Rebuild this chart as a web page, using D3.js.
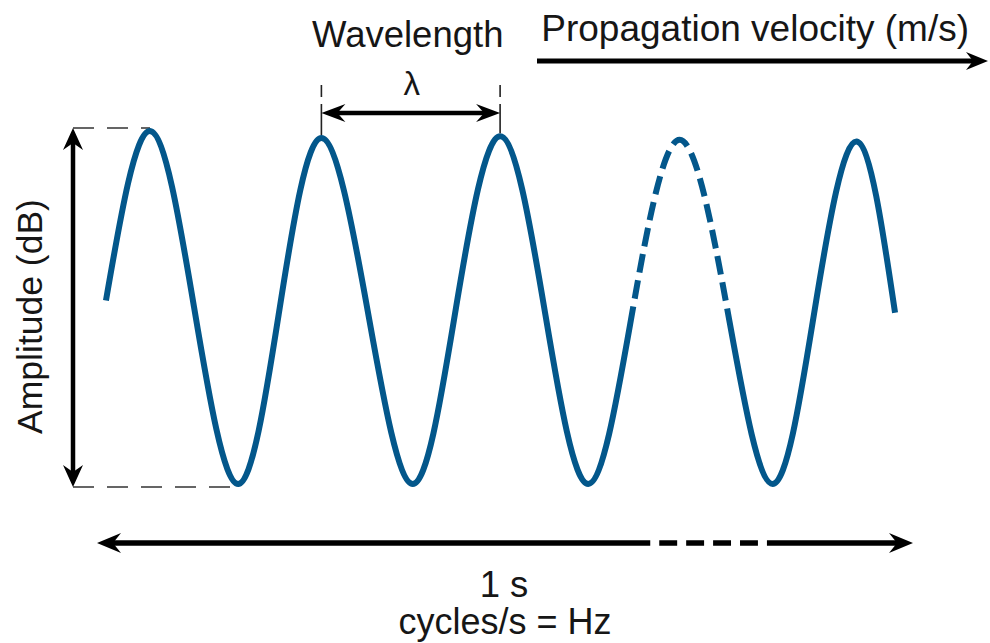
<!DOCTYPE html>
<html><head><meta charset="utf-8">
<script src="https://cdn.jsdelivr.net/npm/d3@7"></script>
<style>
body{margin:0;background:#fff}
svg{display:block;background:#fff}
text{font-family:"Liberation Sans",Arial,Helvetica,sans-serif;fill:#161616}
</style>
</head><body>
<svg id="chart" width="990" height="643"></svg>
<script>
// ---- data (time in seconds across the 1 s span, normalised amplitude) ----
const waveT   = [0.011, 0.065, 0.119, 0.173, 0.224, 0.275, 0.331, 0.387, 0.440, 0.494, 0.548, 0.602, 0.657, 0.714, 0.772, 0.828, 0.880, 0.931, 0.978];
const waveAmp = [0.04,  1.00,  0.00, -1.00,  0.00,  0.96,  0.00, -1.00,  0.00,  0.97,  0.00, -1.00,  0.00,  0.95,  0.00, -1.00,  0.00,  0.94, -0.03];
const waveDashedT = [0.657, 0.772];
const timeDashedT = [0.678, 0.821];
const wavelengthPeaks = [5, 9];          // indices of the two peaks spanning one wavelength
const labelWavelength = "Wavelength";
const labelLambda = "λ";
const labelVelocity = "Propagation velocity (m/s)";
const labelAmplitude = "Amplitude (dB)";
const labelTime = "1 s";
const labelFreq = "cycles/s = Hz";

// ---- layout ----
const svg = d3.select("#chart");
const x = d3.scaleLinear().domain([0, 1]).range([97, 913]);
const y = d3.scaleLinear().domain([-1, 1]).range([484, 131]);
const waveColor = "#03578b";
const ink = "#000";
const fs = 36.5;

function head(g, px, py, angle, len, half, notch) {
  g.append("path")
    .attr("d", `M0,0 L${-len},${-half} L${-notch},0 L${-len},${half} Z`)
    .attr("transform", `translate(${px},${py}) rotate(${angle})`)
    .attr("fill", ink);
}

// ---- guide dashed lines ----
const ampX = 73;
const topY = y(1) - 3, botY = y(-1) + 3;
svg.append("line").attr("x1", ampX).attr("x2", x(waveT[1])).attr("y1", topY).attr("y2", topY)
  .attr("stroke", "#333").attr("stroke-width", 1.6).attr("stroke-dasharray", "21 13");
svg.append("line").attr("x1", ampX).attr("x2", x(waveT[3])).attr("y1", botY).attr("y2", botY)
  .attr("stroke", "#333").attr("stroke-width", 1.6).attr("stroke-dasharray", "21 13");

// ---- wave ----
const pts = waveT.map((t, i) => [t, waveAmp[i]]);
const line = d3.line().x(d => x(d[0])).y(d => y(d[1])).curve(d3.curveNatural);
const wave = svg.append("path").attr("d", line(pts)).attr("fill", "none")
  .attr("stroke", waveColor).attr("stroke-width", 6).attr("stroke-linecap", "butt");
const node = wave.node();
const L = node.getTotalLength();
function lenAtX(px) {
  let lo = 0, hi = L;
  for (let i = 0; i < 50; i++) {
    const m = (lo + hi) / 2;
    if (node.getPointAtLength(m).x < px) lo = m; else hi = m;
  }
  return lo;
}
function dashPattern(l1, l2, total, d0, g) {
  const D = l2 - l1;
  const n = Math.max(1, Math.round((D - g) / (d0 + g)));
  const d = (D - (n + 1) * g) / n;
  const arr = [l1];
  for (let i = 0; i < n; i++) arr.push(g, d);
  arr.push(g, total - l2 + 20, 2000);
  return arr.join(" ");
}
{
  const l1 = lenAtX(x(waveDashedT[0])), l2 = lenAtX(x(waveDashedT[1]));
  wave.attr("stroke-dasharray", dashPattern(l1, l2, L, 18, 8));
}

// ---- amplitude arrow ----
const aG = svg.append("g");
aG.append("line").attr("x1", ampX).attr("x2", ampX).attr("y1", topY + 14).attr("y2", botY - 14)
  .attr("stroke", ink).attr("stroke-width", 4.5);
head(aG, ampX, topY, -90, 22, 10, 15);
head(aG, ampX, botY, 90, 22, 10, 15);
svg.append("text").attr("transform", `translate(42,${(topY + botY) / 2 + 9}) rotate(-90)`)
  .attr("text-anchor", "middle").attr("font-size", fs - 1).text(labelAmplitude);

// ---- wavelength ----
const wx1 = x(waveT[wavelengthPeaks[0]]), wx2 = x(waveT[wavelengthPeaks[1]]);
const wy = 113;
[wavelengthPeaks[0], wavelengthPeaks[1]].forEach(i => {
  svg.append("line").attr("x1", x(waveT[i])).attr("x2", x(waveT[i]))
    .attr("y1", 85).attr("y2", y(waveAmp[i]) - 3)
    .attr("stroke", "#222").attr("stroke-width", 1.6).attr("stroke-dasharray", "12 7 300");
});
const wG = svg.append("g");
wG.append("line").attr("x1", wx1 + 14).attr("x2", wx2 - 14).attr("y1", wy).attr("y2", wy)
  .attr("stroke", ink).attr("stroke-width", 4.5);
head(wG, wx1, wy, 180, 24, 9, 16);
head(wG, wx2, wy, 0, 24, 9, 16);
svg.append("text").attr("x", (wx1 + wx2) / 2 - 3).attr("y", 47).attr("text-anchor", "middle")
  .attr("font-size", fs).text(labelWavelength);
svg.append("text").attr("x", (wx1 + wx2) / 2 + 1).attr("y", 95).attr("text-anchor", "middle")
  .attr("font-size", 33).text(labelLambda);

// ---- propagation velocity ----
const pG = svg.append("g");
pG.append("line").attr("x1", 537).attr("x2", 988 - 14).attr("y1", 61).attr("y2", 61)
  .attr("stroke", ink).attr("stroke-width", 5);
head(pG, 988, 61, 0, 22, 9, 15);
svg.append("text").attr("x", 969).attr("y", 41).attr("text-anchor", "end")
  .attr("font-size", fs + 0.5).text(labelVelocity);

// ---- time arrow ----
const ty = 543;
const tx0 = x(0), tx1 = x(1);
const tG = svg.append("g");
const tLine = tG.append("line").attr("x1", tx0 + 14).attr("x2", tx1 - 14).attr("y1", ty).attr("y2", ty)
  .attr("stroke", ink).attr("stroke-width", 5.5);
{
  const total = (tx1 - 14) - (tx0 + 14);
  const l1 = x(timeDashedT[0]) - (tx0 + 14), l2 = x(timeDashedT[1]) - (tx0 + 14);
  tLine.attr("stroke-dasharray", dashPattern(l1, l2, total, 19, 9));
}
head(tG, tx0, ty, 180, 24, 10, 16);
head(tG, tx1, ty, 0, 24, 10, 16);
svg.append("text").attr("x", 504).attr("y", 597).attr("text-anchor", "middle")
  .attr("font-size", fs).text(labelTime);
svg.append("text").attr("x", 505).attr("y", 634).attr("text-anchor", "middle")
  .attr("font-size", 36).text(labelFreq);
</script>
</body></html>
